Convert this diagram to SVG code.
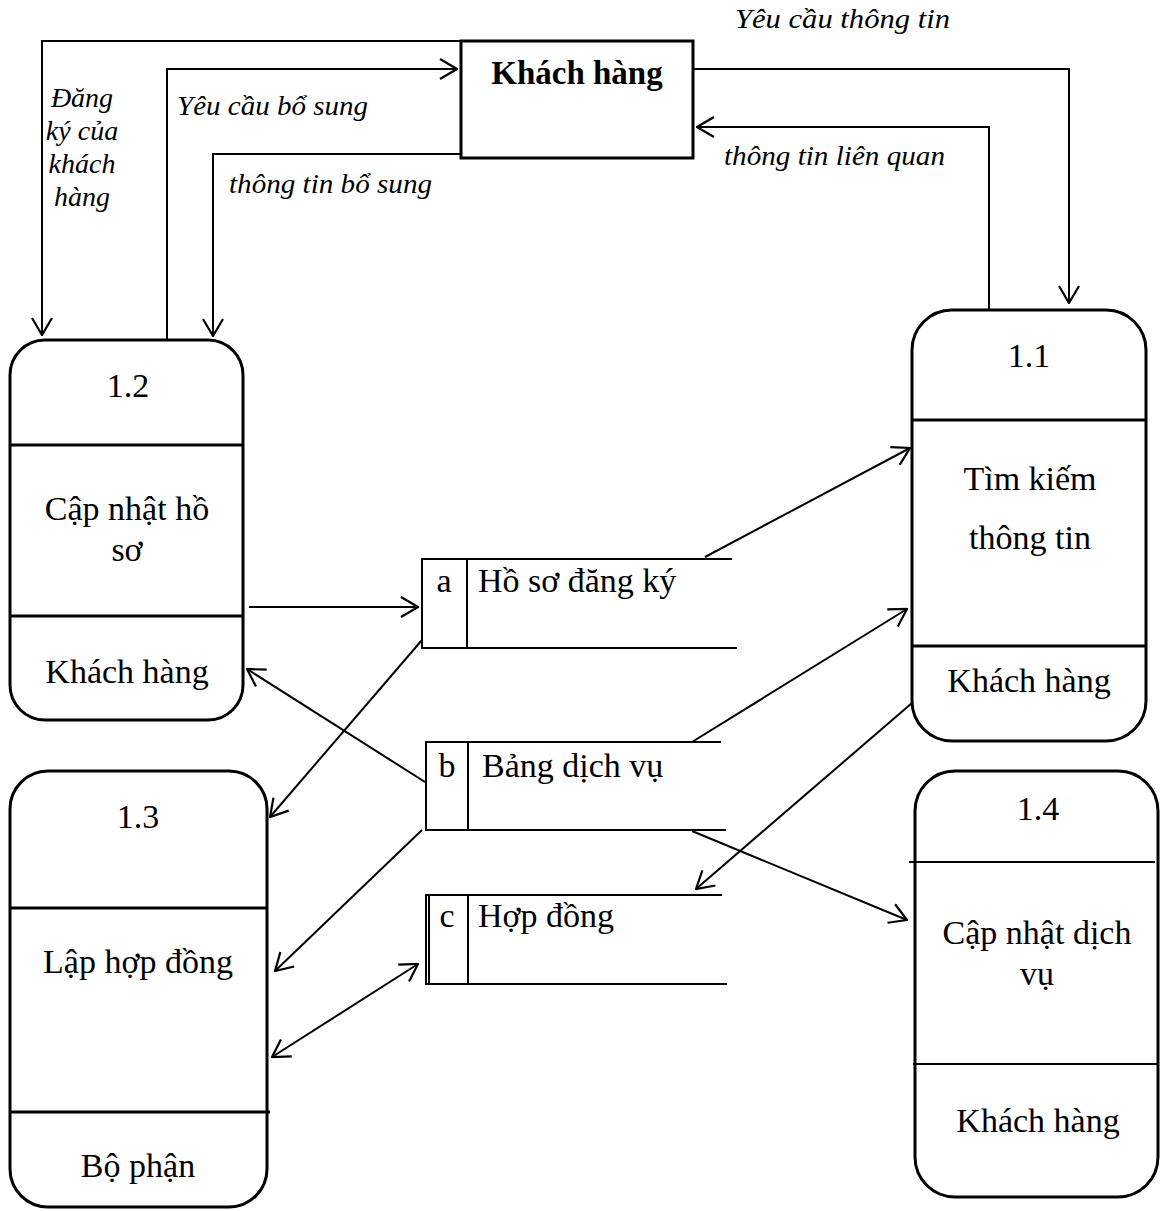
<svg xmlns="http://www.w3.org/2000/svg" width="1163" height="1211" viewBox="0 0 1163 1211">
<defs>
<style>
text{font-family:"Liberation Serif","Times New Roman",serif;fill:#000}
.n{font-size:34px;text-anchor:middle}
.ds{font-size:34px}
.lbl{font-size:28px;font-style:italic}
.box{fill:#fff;stroke:#000;stroke-width:3}
.div{stroke:#000;stroke-width:3}
.thin{stroke:#000;stroke-width:2}
.st{fill:none;stroke:#000;stroke-width:2}
.c{fill:none;stroke:#000;stroke-width:2;marker-end:url(#ah)}
</style>
<marker id="ah" markerUnits="userSpaceOnUse" viewBox="0 0 20 22" markerWidth="20" markerHeight="22" refX="19" refY="11" orient="auto-start-reverse">
<path d="M2,1 L19,11 L2,21" fill="none" stroke="#000" stroke-width="2.2"/>
</marker>
</defs>
<rect width="1163" height="1211" fill="#fff"/>

<g id="connectors">
<polyline class="c" points="460,41 42,41 42,335"/>
<polyline class="c" points="167,340 167,69 457,69"/>
<polyline class="c" points="470,154 213,154 213,336"/>
<polyline class="c" points="692,69 1069,69 1069,303"/>
<polyline class="c" points="989,310 989,127 697,127"/>
<line class="c" x1="249" y1="607" x2="418" y2="607"/>
<line class="c" x1="705" y1="557" x2="910" y2="448"/>
<line class="c" x1="422" y1="640" x2="270" y2="817"/>
<line class="c" x1="425" y1="782" x2="247" y2="669"/>
<line class="c" x1="692" y1="742" x2="907" y2="609"/>
<line class="c" x1="422" y1="830" x2="275" y2="971"/>
<line class="c" x1="692" y1="831" x2="907" y2="920"/>
<line class="c" x1="912" y1="703" x2="696" y2="889"/>
<line class="c" x1="418" y1="964" x2="272" y2="1057" style="marker-start:url(#ah)"/>
</g>

<g id="labels">
<text class="lbl" x="82" y="107" text-anchor="middle">Đăng</text>
<text class="lbl" x="82" y="140" text-anchor="middle">ký của</text>
<text class="lbl" x="82" y="173" text-anchor="middle">khách</text>
<text class="lbl" x="82" y="206" text-anchor="middle">hàng</text>
<text class="lbl" x="177" y="115" textLength="191" lengthAdjust="spacingAndGlyphs">Yêu cầu bổ sung</text>
<text class="lbl" x="229" y="193" textLength="203" lengthAdjust="spacingAndGlyphs">thông tin bổ sung</text>
<text class="lbl" x="735" y="28" textLength="215" lengthAdjust="spacingAndGlyphs">Yêu cầu thông tin</text>
<text class="lbl" x="724" y="165" textLength="221" lengthAdjust="spacingAndGlyphs">thông tin liên quan</text>
</g>

<g id="khach-hang">
<rect class="box" x="461" y="41" width="232" height="117"/>
<text x="577" y="84" style="font-size:33px;font-weight:bold" text-anchor="middle">Khách hàng</text>
</g>

<g id="p1-2">
<rect class="box" x="10" y="340" width="233" height="380" rx="35"/>
<line class="div" x1="10" y1="445" x2="243" y2="445"/>
<line class="div" x1="10" y1="616" x2="243" y2="616"/>
<text class="n" x="128" y="397">1.2</text>
<text class="n" x="127" y="520">Cập nhật hồ</text>
<text class="n" x="127" y="561">sơ</text>
<text class="n" x="127" y="683">Khách hàng</text>
</g>

<g id="p1-3">
<rect class="box" x="10" y="771" width="257" height="436" rx="38"/>
<line class="div" x1="10" y1="908" x2="267" y2="908"/>
<line class="div" x1="10" y1="1112" x2="270" y2="1112"/>
<text class="n" x="138" y="828">1.3</text>
<text class="n" x="138" y="973">Lập hợp đồng</text>
<text class="n" x="138" y="1177">Bộ phận</text>
</g>

<g id="p1-1">
<rect class="box" x="912" y="310" width="234" height="431" rx="40"/>
<line class="div" x1="912" y1="420" x2="1146" y2="420"/>
<line class="div" x1="912" y1="646" x2="1146" y2="646"/>
<text class="n" x="1029" y="367">1.1</text>
<text class="n" x="1030" y="490">Tìm kiếm</text>
<text class="n" x="1030" y="549">thông tin</text>
<text class="n" x="1029" y="692">Khách hàng</text>
</g>

<g id="p1-4">
<rect class="box" x="915" y="771" width="243" height="426" rx="40"/>
<line class="thin" x1="909" y1="862" x2="1155" y2="862"/>
<line class="thin" x1="913" y1="1064" x2="1158" y2="1064"/>
<text class="n" x="1038" y="820">1.4</text>
<text class="n" x="1037" y="944">Cập nhật dịch</text>
<text class="n" x="1037" y="985">vụ</text>
<text class="n" x="1038" y="1132">Khách hàng</text>
</g>

<g id="store-a">
<path class="st" d="M732,559 H422 V648 H737 M467,559 V648"/>
<text class="ds" x="444" y="592" text-anchor="middle">a</text>
<text class="ds" x="478" y="592">Hồ sơ đăng ký</text>
</g>

<g id="store-b">
<path class="st" d="M721,742 H426 V830 H726 M468,742 V830"/>
<text class="ds" x="447" y="777" text-anchor="middle">b</text>
<text class="ds" x="482" y="777">Bảng dịch vụ</text>
</g>

<g id="store-c">
<path class="st" d="M722,895 H426 V984 H727 M468,895 V984 M429,895 V984"/>
<text class="ds" x="447" y="927" text-anchor="middle">c</text>
<text class="ds" x="478" y="927">Hợp đồng</text>
</g>
</svg>
